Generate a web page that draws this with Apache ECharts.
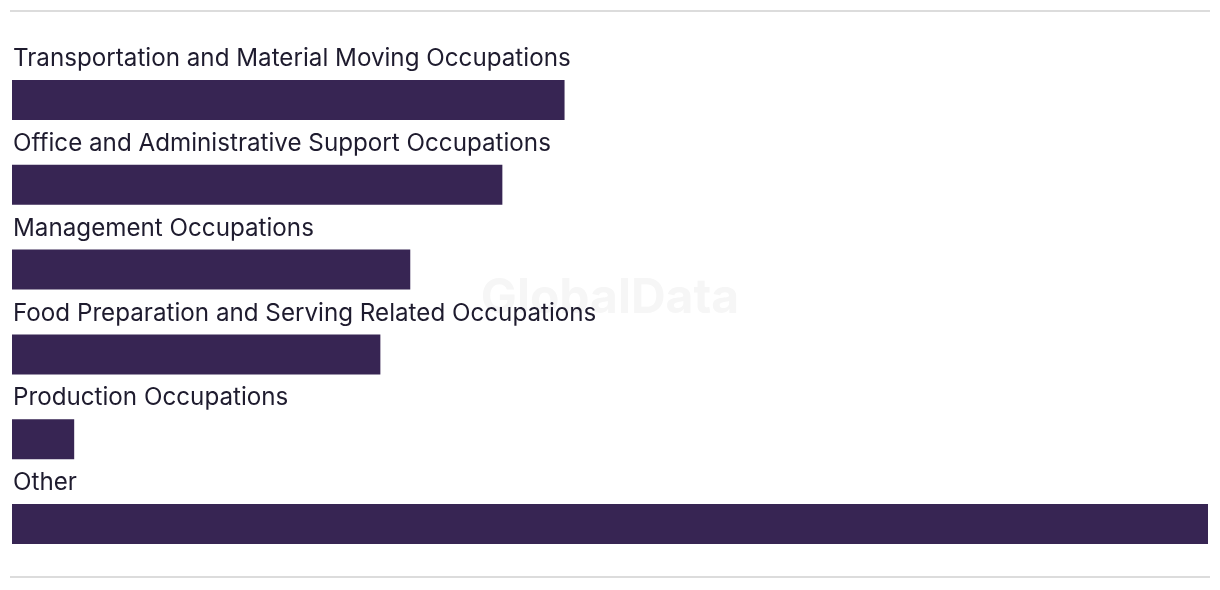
<!DOCTYPE html>
<html>
<head>
<meta charset="utf-8">
<script src="https://cdn.jsdelivr.net/npm/echarts@6/dist/echarts.min.js"></script>
<style>
html,body{margin:0;padding:0;background:#fff;}
#chart{width:1220px;height:590px;}
</style>
</head>
<body>
<div id="chart"></div>
<script>
var categories = [
  "Transportation and Material Moving Occupations",
  "Office and Administrative Support Occupations",
  "Management Occupations",
  "Food Preparation and Serving Related Occupations",
  "Production Occupations",
  "Other"
];
var values = [46.2, 41.0, 33.3, 30.8, 5.2, 100];
var axisMax = 100;

var chart = echarts.init(document.getElementById('chart'));
chart.setOption({
  animation: false,
  backgroundColor: '#ffffff',
  grid: { left: 12, right: 12, top: 57.6, height: 508.8, containLabel: false },
  xAxis: {
    type: 'value', min: 0, max: axisMax,
    show: false
  },
  yAxis: {
    type: 'category', data: categories, inverse: true,
    axisLine: { show: false }, axisTick: { show: false }, axisLabel: { show: false },
    splitLine: { show: false }
  },
  graphic: [
    { type: 'line', shape: { x1: 10, y1: 11, x2: 1210, y2: 11 }, style: { stroke: '#dcdcdc', lineWidth: 2 }, silent: true },
    { type: 'line', shape: { x1: 10, y1: 577, x2: 1210, y2: 577 }, style: { stroke: '#dcdcdc', lineWidth: 2 }, silent: true },
    { type: 'text', left: 'center', top: 275, z: -1,
      style: { text: 'GlobalData', font: 'bold 48px Inter, sans-serif', fill: '#f6f6f6' }, silent: true }
  ],
  series: [{
    type: 'bar',
    data: values,
    barWidth: 40,
    itemStyle: { color: '#372553' },
    label: {
      show: true,
      formatter: '{b}',
      position: [1, -21],
      align: 'left',
      verticalAlign: 'middle',
      color: '#1e1b2e',
      fontSize: 24.2,
      fontFamily: 'Inter, sans-serif'
    }
  }]
});
</script>
</body>
</html>
